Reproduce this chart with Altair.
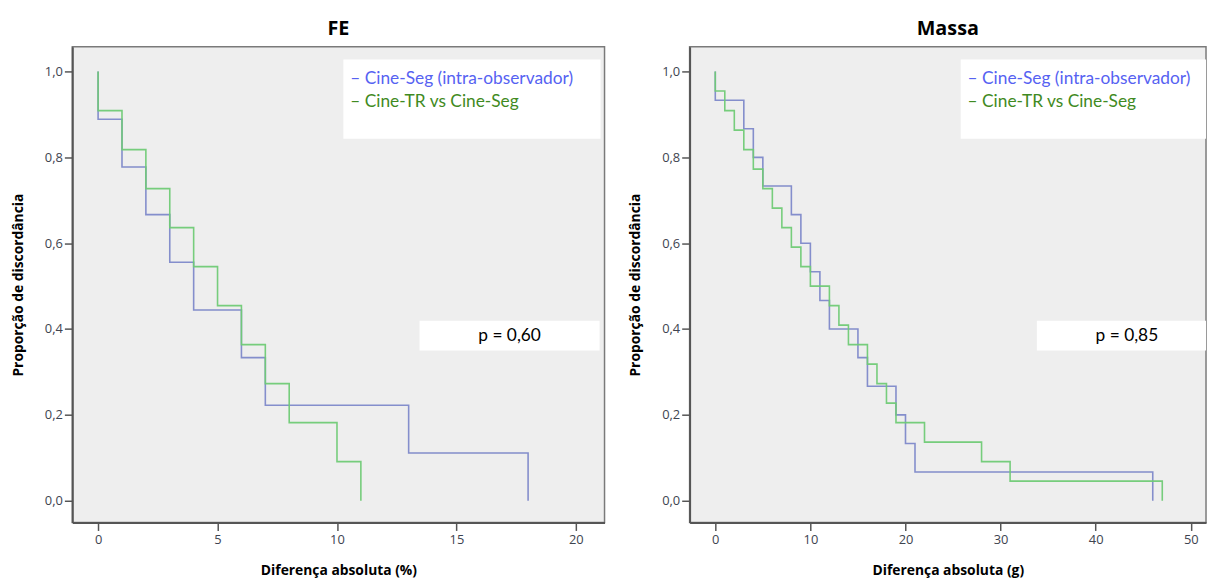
import altair as alt
import pandas as pd

series = ["Cine-Seg (intra-observador)", "Cine-TR vs Cine-Seg"]
line_colors = ["#7d88c9", "#6fca75"]
text_colors = ["#5662f2", "#3f8a22"]

fe_intra = [0, 1, 2, 3, 4, 6, 7, 13, 18]
fe_tr = [0, 1, 2, 3, 4, 5, 6, 7, 8, 10, 11]
massa_intra = [0, 3, 4, 5, 8, 9, 10, 11, 12, 15, 16, 19, 20, 21, 46]
massa_tr = [0, 1, 2, 3, 4, 5, 6, 7, 8, 9, 10, 12, 13, 14, 16, 17, 18, 19, 22, 28, 31, 47]

panel_titles = ["FE", "Massa"]
x_titles = ["Diferença absoluta (%)", "Diferença absoluta (g)"]
p_texts = ["p = 0,60", "p = 0,85"]
x_ticks = [[0, 5, 10, 15, 20], [0, 10, 20, 30, 40, 50]]
y_ticks = [0.0, 0.2, 0.4, 0.6, 0.8, 1.0]


def steps(diffs, name):
    """Empirical proportion of observations with difference greater than x."""
    n = len(diffs)
    rows = [{"x": 0, "y": 1.0, "serie": name, "i": 0}]
    for k, t in enumerate(sorted(set(diffs))):
        rows.append({"x": t, "y": sum(d > t for d in diffs) / n, "serie": name, "i": k + 1})
    return rows


def panel(title, a, b, xdom, xt, xtitle, ptext, width, height=481):
    df = pd.DataFrame(steps(a, series[0]) + steps(b, series[1]))
    xs = alt.Scale(domain=xdom, nice=False, zero=False)
    ys = alt.Scale(domain=[-0.051, 1.058], nice=False, zero=False)
    one = pd.DataFrame({"k": [0]})

    box_legend = alt.Chart(one).mark_rect(color="white").encode(
        x=alt.value(274), x2=alt.value(min(534, width)), y=alt.value(13), y2=alt.value(93)
    )
    box_p = alt.Chart(one).mark_rect(color="white").encode(
        x=alt.value(351), x2=alt.value(min(533, width)), y=alt.value(277), y2=alt.value(307)
    )
    lines = alt.Chart(df).mark_line(interpolate="step-after", strokeWidth=1.6, opacity=0.95).encode(
        x=alt.X("x:Q", scale=xs, axis=alt.Axis(values=xt, format="d", title=xtitle,
                                             labelPadding=3, titlePadding=18)),
        y=alt.Y("y:Q", scale=ys, axis=alt.Axis(values=y_ticks, title="Proporção de discordância",
                                             labelExpr="replace(format(datum.value, '.1f'), '.', ',')",
                                             labelPadding=2, titlePadding=19)),
        color=alt.Color("serie:N", scale=alt.Scale(domain=series, range=line_colors), legend=None),
        order=alt.Order("i:Q"),
    )
    leg1 = alt.Chart(one).mark_text(align="left", baseline="middle", font="Lato", fontSize=17.5,
                                    color=text_colors[0]).encode(
        x=alt.value(281), y=alt.value(33), text=alt.value("– " + series[0]))
    leg2 = alt.Chart(one).mark_text(align="left", baseline="middle", font="Lato", fontSize=17.5,
                                    color=text_colors[1]).encode(
        x=alt.value(281), y=alt.value(56), text=alt.value("– " + series[1]))
    ptxt = alt.Chart(one).mark_text(align="center", baseline="middle", font="Lato", fontSize=17.5,
                                    color="black").encode(
        x=alt.value(442), y=alt.value(293), text=alt.value(ptext))
    return alt.layer(box_legend, box_p, lines, leg1, leg2, ptxt).properties(
        width=width, height=height, title=alt.Title(title)
    )


left = panel(panel_titles[0], fe_intra, fe_tr, [-1.08, 21.2], x_ticks[0], x_titles[0], p_texts[0], 538)
right = panel(panel_titles[1], massa_intra, massa_tr, [-2.7, 51.6], x_ticks[1], x_titles[1], p_texts[1], 522)

chart = alt.hconcat(left, right, spacing=23).resolve_scale(
    x="independent", y="independent"
).properties(
    padding={"left": 3, "top": 7, "right": 0, "bottom": 0}
).configure_view(
    fill="#eeeeee", stroke="#7a7a7a", strokeWidth=1.5
).configure_axis(
    domainColor="#555555", domainWidth=2, tickColor="#555555", tickWidth=1.5, tickSize=8,
    labelFont="Open Sans", labelFontSize=13, labelColor="#3e4450",
    titleFont="Open Sans", titleFontSize=14, titleFontWeight="bold", titleColor="black",
    grid=False,
).configure_title(
    font="Open Sans", fontSize=20, fontWeight="bold", anchor="middle", offset=8, color="black"
)

chart.save("out.html", embed_options={"renderer": "svg", "actions": False})
